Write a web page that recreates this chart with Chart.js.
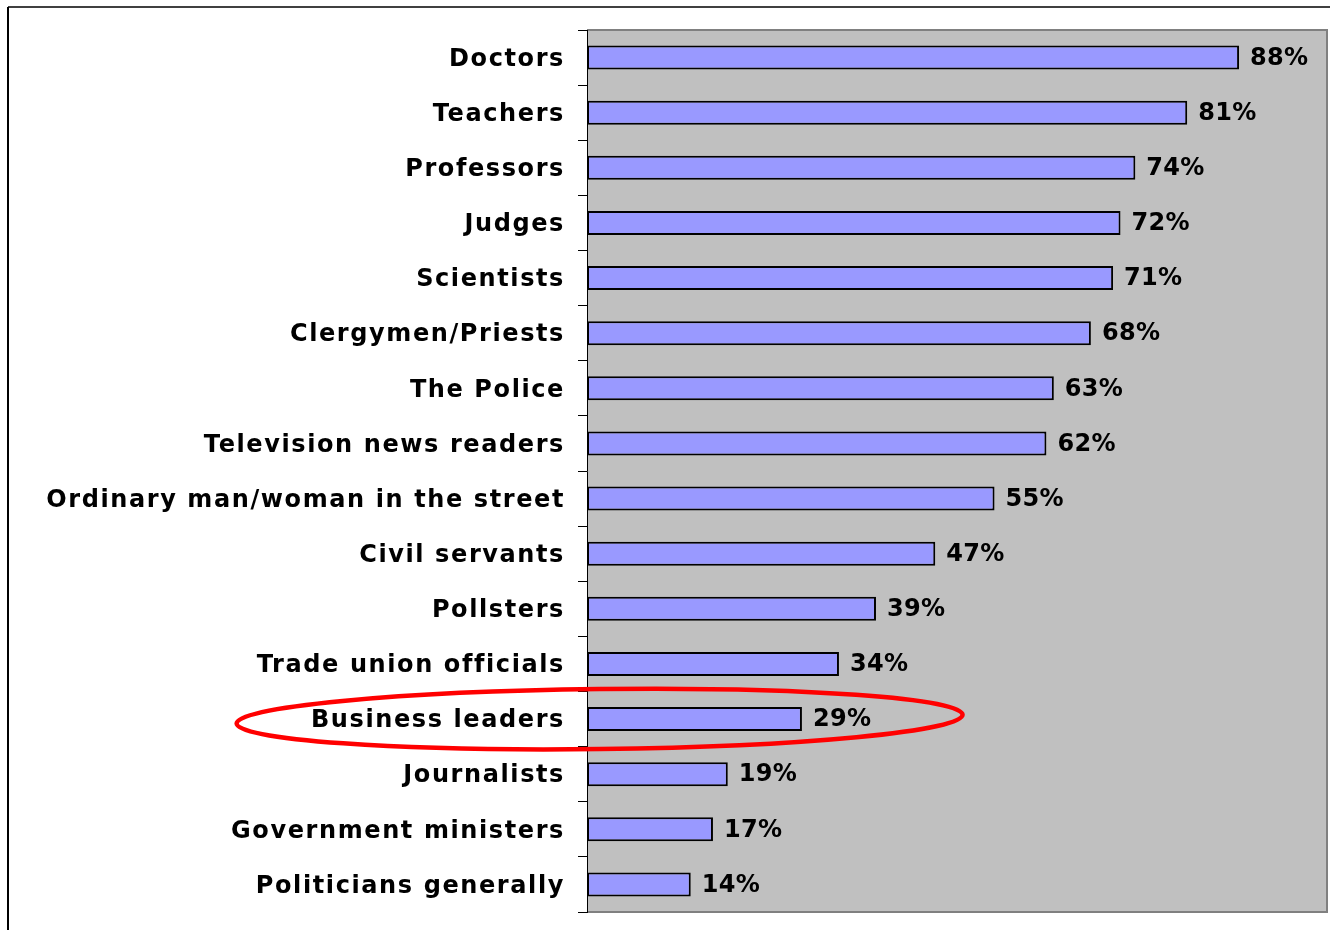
<!DOCTYPE html>
<html lang="en">
<head>
    <meta charset="UTF-8">
    <title>Trust in professions</title>
    <script src="https://cdn.jsdelivr.net/npm/chart.js"></script>
    <style>
        html, body { margin: 0; padding: 0; background: #ffffff; overflow: hidden; }
    </style>
</head>
<body>
    <canvas id="trustChart" width="1330" height="930"></canvas>
    <script>
        // data
        const categories = ['Doctors', 'Teachers', 'Professors', 'Judges', 'Scientists', 'Clergymen/Priests',
            'The Police', 'Television news readers', 'Ordinary man/woman in the street', 'Civil servants',
            'Pollsters', 'Trade union officials', 'Business leaders', 'Journalists', 'Government ministers',
            'Politicians generally'];
        const trustValues = [88, 81, 74, 72, 71, 68, 63, 62, 55, 47, 39, 34, 29, 19, 17, 14];
        const highlighted = 'Business leaders';

        const FONT = '"DejaVu Sans", "Liberation Sans", Arial, sans-serif';
        const SPACING = '1.6px';

        document.addEventListener('DOMContentLoaded', function() {
            const canvas = document.getElementById('trustChart');
            const ctx = canvas.getContext('2d');

            // gray plot area, outer frame and letter spacing for the tick labels
            const backgroundPlugin = {
                id: 'backgroundPlugin',
                beforeDraw: (chart) => {
                    const c = chart.ctx;
                    const a = chart.chartArea;
                    c.save();
                    c.fillStyle = '#c0c0c0';
                    c.fillRect(a.left, a.top, a.right - a.left, a.bottom - a.top);
                    c.strokeStyle = '#808080';
                    c.lineWidth = 2;
                    c.beginPath();
                    c.moveTo(a.left, a.top);
                    c.lineTo(a.right - 1, a.top);
                    c.lineTo(a.right - 1, a.bottom);
                    c.lineTo(a.left, a.bottom);
                    c.stroke();
                    // frame of the slide
                    c.strokeStyle = '#404040';
                    c.beginPath();
                    c.moveTo(8, 7);
                    c.lineTo(chart.width, 7);
                    c.stroke();
                    c.strokeStyle = '#000000';
                    c.beginPath();
                    c.moveTo(8, 7);
                    c.lineTo(8, chart.height);
                    c.stroke();
                    c.restore();
                    c.letterSpacing = SPACING;
                }
            };

            // percentage labels at the bar ends, plus the red ellipse
            const labelPlugin = {
                id: 'labelPlugin',
                afterDatasetsDraw: (chart) => {
                    const c = chart.ctx;
                    const meta = chart.getDatasetMeta(0);
                    c.save();
                    c.letterSpacing = '0.3px';
                    c.font = 'bold 24px ' + FONT;
                    c.fillStyle = '#000000';
                    c.textAlign = 'left';
                    c.textBaseline = 'middle';
                    meta.data.forEach((bar, i) => {
                        c.fillText(trustValues[i] + '%', bar.x + 11, bar.y + 1);
                    });
                    c.restore();

                    const yScale = chart.scales.y;
                    const xScale = chart.scales.x;
                    const idx = categories.indexOf(highlighted);
                    c.save();
                    c.strokeStyle = '#ff0000';
                    c.lineWidth = 4.5;
                    c.beginPath();
                    c.ellipse(xScale.getPixelForValue(1.7), yScale.getPixelForValue(idx), 363, 30, -0.012, 0, Math.PI * 2);
                    c.stroke();
                    c.restore();
                    c.letterSpacing = SPACING;
                }
            };

            new Chart(ctx, {
                type: 'bar',
                data: {
                    labels: categories,
                    datasets: [{
                        data: trustValues,
                        backgroundColor: '#9999ff',
                        borderColor: '#000000',
                        borderWidth: 2,
                        borderSkipped: false,
                        barPercentage: 0.435,
                        categoryPercentage: 1
                    }]
                },
                options: {
                    indexAxis: 'y',
                    animation: false,
                    responsive: false,
                    devicePixelRatio: 1,
                    layout: {
                        padding: { top: 30, right: 2, bottom: 18, left: 0 }
                    },
                    scales: {
                        x: {
                            display: false,
                            min: 0,
                            max: 100
                        },
                        y: {
                            offset: true,
                            afterFit: function(scale) {
                                scale.width = 587;
                                scale.paddingTop = 0;
                                scale.paddingBottom = 0;
                            },
                            grid: {
                                offset: true,
                                drawOnChartArea: false,
                                tickLength: 9,
                                color: '#000000',
                                tickColor: '#000000'
                            },
                            border: { color: '#000000', width: 1 },
                            ticks: {
                                autoSkip: false,
                                padding: 13,
                                labelOffset: 2,
                                color: '#000000',
                                font: { family: FONT, size: 24, weight: 'bold' }
                            }
                        }
                    },
                    plugins: {
                        legend: { display: false },
                        tooltip: { enabled: false }
                    }
                },
                plugins: [backgroundPlugin, labelPlugin]
            });
        });
    </script>
</body>
</html>
